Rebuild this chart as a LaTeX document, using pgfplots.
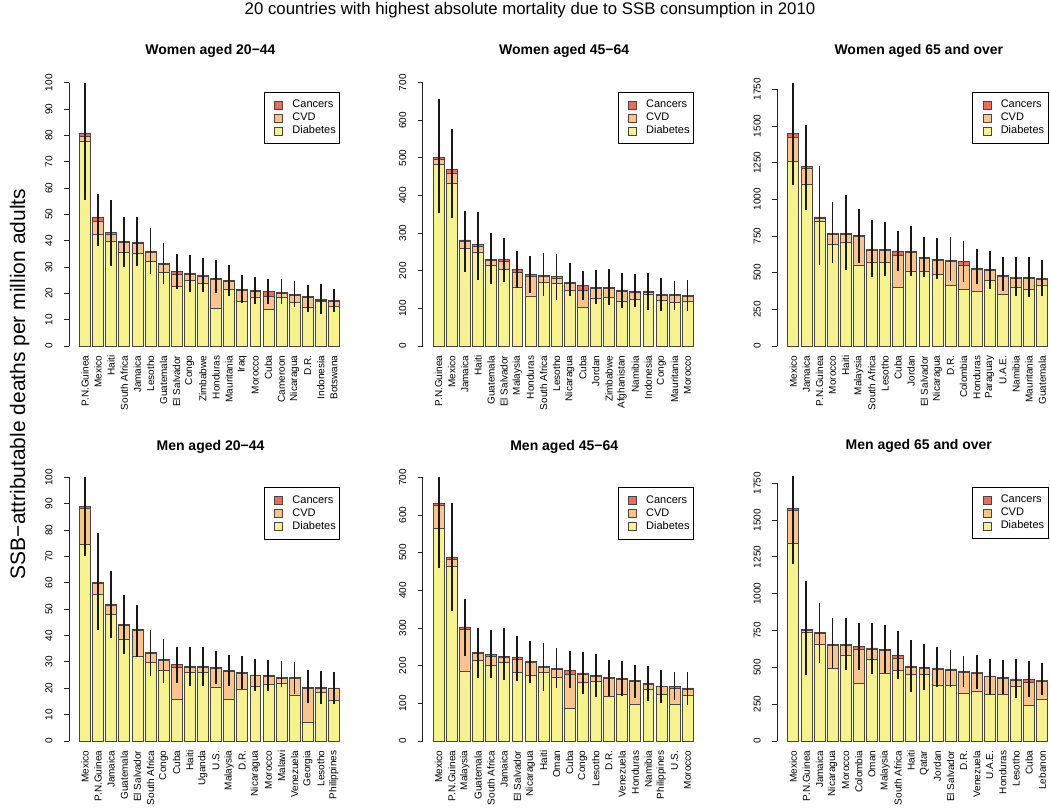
\documentclass[border=0pt]{standalone}
\usepackage{fontspec}
\setmainfont{Liberation Sans}
\usepackage{pgfplots}
\usepackage{pgfplotstable}
\pgfplotsset{compat=1.18}

\definecolor{diab}{RGB}{246,242,140}
\definecolor{cvd}{RGB}{251,196,138}
\definecolor{canc}{RGB}{238,108,88}
\definecolor{edge}{RGB}{70,70,70}

% columns: d = diabetes, c = CVD, k = cancers, lo/hi = uncertainty interval of total
\pgfplotstableread{
d c k lo hi
77.8 1.8 1.3 55.5 100
42.5 4.8 1.4 38 57.6
39.7 2.9 0.5 30.5 55.3
35.5 3.8 0.5 30 49
35.2 3.8 0.5 30.2 49
32.0 3.4 0.5 27.2 44.8
28.0 3.0 0.5 23.5 39.3
22.7 4.7 0.9 21.5 35
24.8 2.3 0.4 20.5 34.5
23.7 2.9 0.4 20.5 33.5
14.2 11.1 0.4 20 32.5
21.7 2.9 0.4 19 30.8
17.0 4.1 0.4 16.5 27
18.6 2.1 0.4 16 26.3
14.0 4.7 2.0 16 25.5
18.5 1.5 0.4 16 25.3
16.5 2.7 0.4 15 24.5
14.7 3.8 0.4 13 23.2
17.0 0.4 0.4 12.3 23.5
15.2 1.8 0.4 13 21.8
}\tWA
\pgfplotstableread{
d c k lo hi
482 14 6 353 657
433 27 10 340 578
260 18 4 198 358
250 16 4 175 355
215 12 3 164 300
203 22 5 170 287
155 42 6 155 253
133 53 4 140 238
170 14 4 133 247
167 14 4 123 245
148 18 3 132 220
104 45 12 122 199
128 25 3 112 201
130 23 3 110 206
120 26 3 102 194
125 17 3 105 192
138 4 3 97 193
122 13 3 92 180
115 19 3 97 173
118 13 3 93 175
}\tWB
\pgfplotstableread{
d c k lo hi
1260 165 25 1095 1790
1105 105 12 925 1510
850 20 10 555 1225
695 67 8 565 982
710 50 7 515 1030
553 192 7 565 935
573 82 6 470 857
568 84 8 478 847
400 215 33 510 786
512 128 4 480 820
507 90 5 470 743
487 98 5 460 735
413 164 6 445 741
385 168 22 438 715
372 151 5 420 660
447 69 5 390 650
350 127 4 375 605
400 64 4 340 607
385 78 5 335 610
413 42 5 340 583
}\tWC
\pgfplotstableread{
d c k lo hi
74.7 13.5 0.8 70 100
55.8 4.0 0.4 42 78.8
48.0 3.5 0.3 39 64.3
38.5 5.3 0.4 33 55.5
32.3 9.7 0.4 32 51.5
29.7 3.5 0.4 24.5 42.2
27.0 3.5 0.4 22 38.7
15.7 12.1 1.2 22 35.7
26.0 2.0 0.4 21 35.8
26.0 2.0 0.3 21 35.5
20.5 7.1 0.4 21.5 34.3
16.0 10.4 0.4 21 32.5
19.6 6.0 0.3 19.8 32.2
20.7 4.1 0.3 19 31
21.6 3.0 0.3 19 30.6
21.8 1.9 0.4 20.5 30.2
17.2 6.4 0.4 18 30
7.2 12.8 0.3 14.5 27
18.6 1.4 0.3 14 26.5
15.3 4.5 0.3 14 26.3
}\tMA
\pgfplotstableread{
d c k lo hi
565 60 5 460 700
465 18 4 345 633
185 112 6 225 378
213 19 4 167 300
200 25 5 167 295
208 14 3 163 300
183 35 4 160 278
175 33 3 155 266
182 14 3 133 260
168 22 3 140 248
87 91 10 140 239
155 23 3 125 235
158 14 3 117 231
119 47 3 120 214
123 41 3 120 213
97 61 3 115 203
138 13 3 106 200
124 20 2 100 188
97 42 6 108 183
122 16 3 95 184
}\tMB
\pgfplotstableread{
d c k lo hi
1342 223 15 1200 1800
740 10 10 450 1085
660 70 6 530 940
493 157 8 495 835
583 67 8 480 835
392 233 17 485 800
553 72 7 455 800
460 155 7 460 790
483 82 17 420 745
455 45 7 335 685
450 42 8 345 660
378 112 7 370 640
380 102 8 370 615
322 143 5 365 575
335 127 5 350 585
315 122 5 315 560
318 107 5 320 550
372 43 7 290 557
240 160 16 300 540
280 128 5 310 532
}\tMC

\pgfplotsset{
  sqleg/.style={legend image code/.code={%
    \path[draw=none,fill=none] (0pt,-4pt) rectangle (20pt,4pt);
    \draw[##1,line width=0.5pt,draw=edge] (6pt,-4pt) rectangle (14pt,4pt);}},
  base/.style={
    scale only axis, width=283pt,
    xmin=-1.217, xmax=20.383, ymin=0, clip=false,
  },
  panel/.style={
    base,
    ybar stacked, bar width=0.8333,
    axis y line*=left, axis x line*=bottom,
    x axis line style={draw=none},
    major x tick style={draw=none},
    xtick={0,...,19},
    xticklabel style={rotate=90, anchor=east, font=\fontsize{10}{12}\selectfont, inner sep=4.5pt},
    y axis line style={line width=0.9pt, draw=black!85},
    major y tick style={line width=0.9pt, draw=black!85},
    tick align=outside, major tick length=5pt,
    yticklabel style={xshift=-8pt, rotate=90, anchor=south, font=\fontsize{10}{12}\selectfont},
    /pgf/number format/assume math mode=true,
    /pgf/number format/1000 sep={},
    legend style={anchor=north east, draw=black, line width=0.9pt,
      font=\fontsize{11}{13}\selectfont, inner xsep=4pt, inner ysep=7.5pt,
      row sep=2.5pt, column sep=4pt,
      cells={anchor=west}, nodes={inner sep=0pt, text height=8pt, text depth=2.5pt}},
    reverse legend,
  },
}

\newcommand{\panel}[8]{%
  \begin{axis}[panel, at={#1}, anchor=south west, height=#2, ymax=#3, ytick distance=#4,
    legend style={at={(0.9587,#5)}}, xticklabels={#7}]
  \addplot[fill=diab, draw=edge, line width=0.6pt, sqleg] table[x expr=\coordindex, y=d] {#6};
  \addplot[fill=cvd, draw=edge, line width=0.6pt, sqleg] table[x expr=\coordindex, y=c] {#6};
  \addplot[fill=canc, draw=edge, line width=0.6pt, sqleg] table[x expr=\coordindex, y=k] {#6};
  \legend{Diabetes,CVD,Cancers}
  \node[anchor=base, font=\bfseries\fontsize{14}{17}\selectfont] at (rel axis cs:0.5,0) [yshift=291pt] {#8};
  \end{axis}
  \begin{axis}[base, at={#1}, anchor=south west, height=#2, ymax=#3, hide axis]
  \addplot[draw=none, no markers,
    error bars/.cd, y dir=both, y explicit, error mark=none,
    error bar style={line width=1.8pt, draw=black!90, line cap=butt}]
    table[x expr=\coordindex, y expr={\thisrow{d}+\thisrow{c}+\thisrow{k}},
      y error plus expr={\thisrow{hi}-\thisrow{d}-\thisrow{c}-\thisrow{k}},
      y error minus expr={\thisrow{d}+\thisrow{c}+\thisrow{k}-\thisrow{lo}}] {#6};
  \end{axis}
}

\begin{document}
\begin{tikzpicture}
\useasboundingbox (0,0) rectangle (1050pt,807pt);
\node[anchor=base, font=\fontsize{16.8}{20}\selectfont] at (530pt,792pt) {20 countries with highest absolute mortality due to SSB consumption in 2010};
\node[rotate=90, anchor=base, font=\fontsize{21}{25}\selectfont] at (25pt,423pt) {SSB−attributable deaths per million adults};

\panel{(69pt,461pt)}{263.3pt}{100}{10}{0.965}{\tWA}%
  {P.N.Guinea,Mexico,Haiti,South Africa,Jamaica,Lesotho,Guatemala,El Salvador,Congo,Zimbabwe,Honduras,Mauritania,Iraq,Morocco,Cuba,Cameroon,Nicaragua,D.R.,Indonesia,Botswana}%
  {Women aged 20−44}

\panel{(422.7pt,461pt)}{263.3pt}{700}{100}{0.965}{\tWB}%
  {P.N.Guinea,Mexico,Jamaica,Haiti,Guatemala,El Salvador,Malaysia,Honduras,South Africa,Lesotho,Nicaragua,Cuba,Jordan,Zimbabwe,Afghanistan,Namibia,Indonesia,Congo,Mauritania,Morocco}%
  {Women aged 45−64}

\panel{(777.3pt,461pt)}{256.7pt}{1750}{250}{0.9895}{\tWC}%
  {Mexico,Jamaica,P.N.Guinea,Morocco,Haiti,Malaysia,South Africa,Lesotho,Cuba,Jordan,El Salvador,Nicaragua,D.R.,Colombia,Honduras,Paraguay,U.A.E.,Namibia,Mauritania,Guatemala}%
  {Women aged 65 and over}

\panel{(69pt,66pt)}{263.7pt}{100}{10}{0.963}{\tMA}%
  {Mexico,P.N.Guinea,Jamaica,Guatemala,El Salvador,South Africa,Congo,Cuba,Haiti,Uganda,U.S.,Malaysia,D.R.,Nicaragua,Morocco,Malawi,Venezuela,Georgia,Lesotho,Philippines}%
  {Men aged 20−44}

\panel{(422.7pt,66pt)}{263.7pt}{700}{100}{0.963}{\tMB}%
  {Mexico,P.N.Guinea,Malaysia,Guatemala,South Africa,Jamaica,El Salvador,Nicaragua,Haiti,Oman,Cuba,Congo,Lesotho,D.R.,Venezuela,Honduras,Namibia,Philippines,U.S.,Morocco}%
  {Men aged 45−64}

\panel{(777.3pt,66pt)}{257.7pt}{1750}{250}{0.9857}{\tMC}%
  {Mexico,P.N.Guinea,Jamaica,Nicaragua,Morocco,Colombia,Oman,Malaysia,South Africa,Haiti,Qatar,Jordan,El Salvador,D.R.,Venezuela,U.A.E.,Honduras,Lesotho,Cuba,Lebanon}%
  {Men aged 65 and over}
\end{tikzpicture}
\end{document}
